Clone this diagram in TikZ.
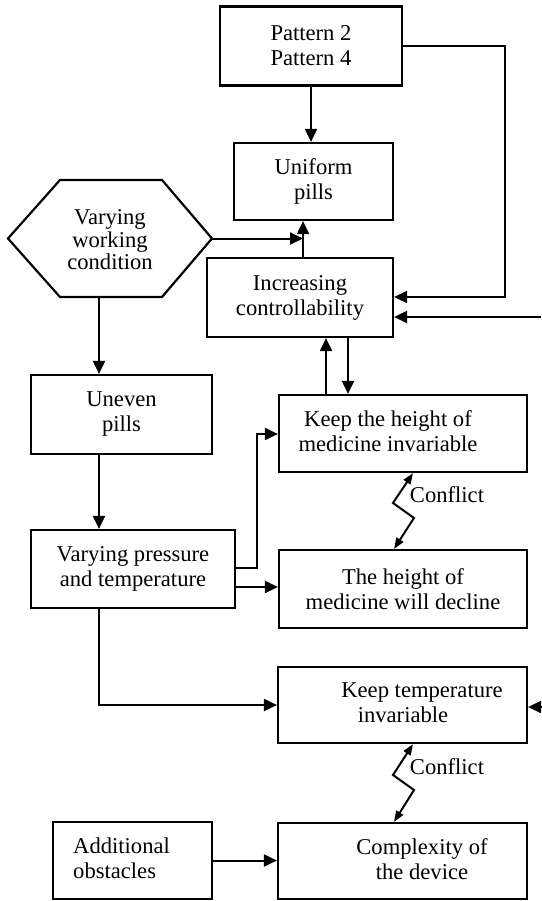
\documentclass[tikz,border=0pt]{standalone}
\usepackage{fontspec}
\setmainfont{Liberation Serif}
\usetikzlibrary{arrows.meta}
\begin{document}
\begin{tikzpicture}[x=1pt,y=-1pt,
  box/.style={draw, line width=2.2pt, inner sep=0pt, align=center, font=\fontsize{22.6}{25}\selectfont},
  lbl/.style={inner sep=0pt, align=center, font=\fontsize{22.6}{25}\selectfont},
  conn/.style={line width=2pt, -{Triangle[length=13pt,width=12pt]}},
  zz/.style={line width=2pt, {Triangle[length=11pt,width=8pt]}-{Triangle[length=11pt,width=8pt]}}]
\useasboundingbox (0,0) rectangle (541,901);
% nodes
\node[box, minimum width=182pt, minimum height=79pt] (pat) at (311,46) {Pattern 2\\Pattern 4};
\node[box, minimum width=159pt, minimum height=77pt] (uni) at (313.5,181.5) {Uniform\\pills};
\node[box, minimum width=186pt, minimum height=79pt] (inc) at (300,297.5) {Increasing\\controllability};
\draw[line width=2.2pt] (8,238.5) -- (60,180) -- (162,180) -- (212,238.5) -- (162,297) -- (60,297) -- cycle;
\coordinate (hexR) at (212,238.5);
\coordinate (hexB) at (99,297);
\node[lbl, font=\fontsize{22.6}{22.5}\selectfont] (hex) at (110,240) {Varying\\working\\condition};
\node[box, minimum width=181pt, minimum height=79pt] (une) at (121.5,414.5) {Uneven\\pills};
\node[box, minimum width=204pt, minimum height=78pt] (vpt) at (133,569) {Varying pressure\\and temperature};
\node[box, minimum width=248pt, minimum height=77pt] (kh) at (403,433.5) {};
\node[lbl] (khl) at (388,431) {Keep the height of\\medicine invariable};
\node[box, minimum width=248pt, minimum height=78pt] (th) at (403,589) {The height of\\medicine will decline};
\node[box, minimum width=249pt, minimum height=76pt] (kt) at (402.5,705) {};
\node[lbl, anchor=base] (ktl1) at (422,697) {Keep temperature};
\node[lbl, anchor=base] (ktl2) at (403,722) {invariable};
\node[box, minimum width=249pt, minimum height=76pt] (cx) at (402.5,861) {};
\node[lbl] (cxl) at (422,859.5) {Complexity of\\the device};
\node[box, minimum width=159pt, minimum height=77pt] (ad) at (132.5,860.5) {};
\node[lbl, align=left, anchor=west] (adl) at (73,858) {Additional\\obstacles};
% helper coordinates
\coordinate (rr) at (505,297);
\coordinate (e1) at (541,317);
\coordinate (e2) at (541,707);
\coordinate (j) at (303,238.5);
\coordinate (u1) at (326,0);
\coordinate (d1) at (348,0);
\coordinate (a1) at (0,568);
\coordinate (a2) at (257,434);
\coordinate (a3) at (0,587);
\coordinate (z0) at (413,0);
\coordinate (z3) at (394,0);
% connectors
\draw[conn] (pat.south) -- (pat.south |- uni.north);
\draw[conn] (pat.east) -| (rr) -- (rr -| inc.east);
\draw[conn] (e1) -- (e1 -| inc.east);
\draw[conn] (hexR) -- (j);
\draw[conn] (inc.north -| j) -- (uni.south -| j);
\draw[conn] (kh.north -| u1) -- (inc.south -| u1);
\draw[conn] (inc.south -| d1) -- (kh.north -| d1);
\draw[conn] (hexB) -- (hexB |- une.north);
\draw[conn] (une.south -| hexB) -- (vpt.north -| hexB);
\draw[conn] (vpt.east |- a1) -| (a2) -- (a2 -| kh.west);
\draw[conn] (vpt.east |- a3) -- (th.west |- a3);
\draw[conn] (vpt.south -| hexB) |- (kt.west);
\draw[conn] (ad.east) -- (ad.east -| cx.west);
\draw[conn] (e2) -- (e2 -| kt.east);
% conflicts
\draw[zz] (kh.south -| z0) -- (393,503) -- (414,518) -- (th.north -| z3);
\node[lbl] (c1) at (447,495) {Conflict};
\draw[zz] (kt.south -| z0) -- (393,775) -- (414,790) -- (cx.north -| z3);
\node[lbl] (c2) at (447,767) {Conflict};
\end{tikzpicture}
\end{document}
